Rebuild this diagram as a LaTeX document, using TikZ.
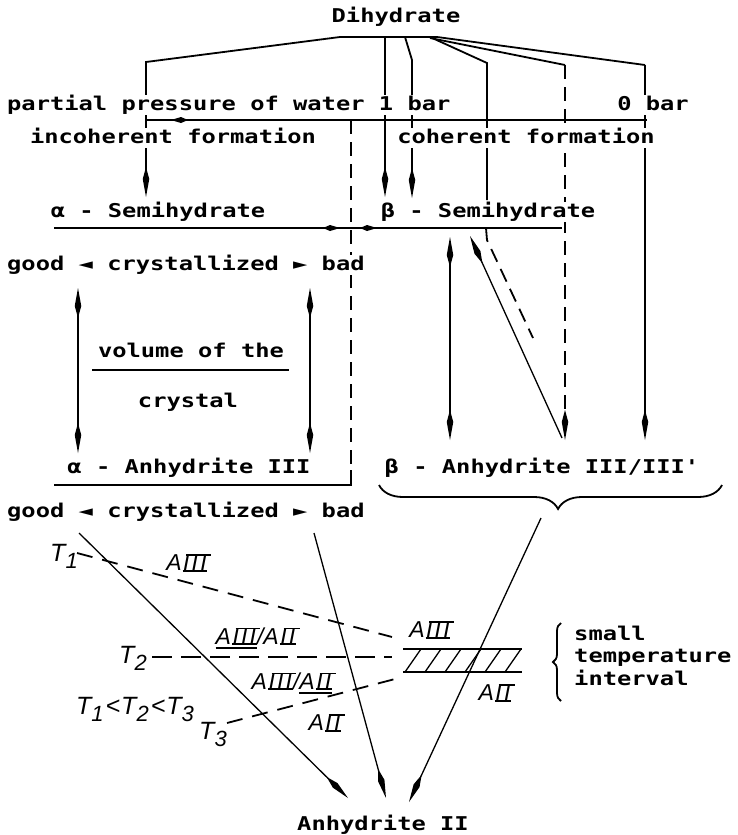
\documentclass[tikz,border=0pt]{standalone}
\usepackage{fontspec}
\usetikzlibrary{arrows.meta,decorations.pathreplacing,decorations.markings}
\newfontfamily\dm{DejaVu Sans Mono}[FakeStretch=1.25]
\newfontfamily\hand{Liberation Sans}
\newcommand\bars[1]{\setbox0\hbox{#1}\rlap{\kern3.2pt\raise\dimexpr\ht0-0.8pt\relax\hbox{\vrule width\wd0 height1.4pt depth0pt}}\rlap{\kern-0.5pt\lower0.6pt\hbox{\vrule width\wd0 height1.4pt depth0pt}}\box0}
\newcommand\AIII{A\kern1.5pt\bars{I\kern2.2pt I\kern2.2pt I\kern1pt}}
\newcommand\AII{A\kern1.5pt\bars{I\kern2.2pt I\kern1pt}}
\newcommand\UL[1]{\setbox2\hbox{#1}\rlap{\lower4.5pt\hbox{\vrule width\wd2 height1.3pt depth0pt}}\box2}
\newcommand\sub[1]{\raisebox{-7pt}{\fontsize{22}{22}\selectfont #1}}
\begin{document}
\begin{tikzpicture}[x=1pt,y=-1pt,
  txt/.style={font=\dm\bfseries\fontsize{19}{22}\selectfont, fill=white, inner sep=1pt, text height=14pt, text depth=4pt},
  lbl/.style={font=\hand\itshape\fontsize{23}{25}\selectfont, inner sep=1pt},
  tlbl/.style={font=\hand\itshape\fontsize{25}{27}\selectfont, inner sep=1pt},
  ln/.style={line width=1.8pt},
  thn/.style={line width=1.3pt},
  dsh/.style={dash pattern=on 14pt off 8pt},
  blob/.tip={Kite[length=17pt,width=6pt,inset=7pt]},
  >={Kite[length=30pt,width=6.5pt,inset=12pt]}]
\useasboundingbox (0,0) rectangle (738,835);
% junction coordinates
\coordinate (dl) at (340,37);
\coordinate (dr) at (437,37);
\coordinate (cl) at (146,62);
\coordinate (f1) at (412,60);
\coordinate (f2) at (487,63);
\coordinate (f3) at (565,65);
\coordinate (f4) at (645,65);
\coordinate (baL) at (147,120);
\coordinate (baR) at (647,120);
\coordinate (sL) at (54,228);
\coordinate (sR) at (562,228);
% Dihydrate fan
\draw[ln,->] (dl) -- (cl) -- (146,197);
\draw[ln] (dl) -- (dr);
\draw[ln,->] (385,37) -- (385,197);
\draw[ln,->] (405,37) -- (f1) -- (412,198);
\draw[ln] (430,37) -- (f2) -- (487,200);
\draw[ln] (430,38) -- (f3);
\draw[ln,dsh,->] (f3) -- (565,440);
\draw[ln] (dr) -- (f4);
\draw[ln,->] (f4) -- (645,440);
% pressure bar
\draw[ln,decoration={markings,mark=at position 476pt with {\arrow{blob}}},postaction=decorate] (baR) -- (baL);
% separating dashed line
\draw[ln,dsh] (351,120) -- (351,470);
\draw[ln] (351,470) -- (351,485) -- (54,485);
% semihydrate bar
\draw[ln,decoration={markings,mark=at position 286pt with {\arrow{blob}},mark=at position 323pt with {\arrow{blob}}},postaction=decorate] (sL) -- (sR);
% alpha double arrows
\draw[ln,<->] (78,288) -- (78,453);
\draw[ln,<->] (310,288) -- (310,453);
\draw[thn] (92,370) -- (289,370);
% beta arrows
\draw[ln,<->] (450,237) -- (450,440);
\draw[thn,<-] (470,236) -- (562,438);
\draw[ln,dsh] (486,228) -- (487,240) -- (533,338);
% brace
\draw[ln,decorate,decoration={brace,amplitude=24pt,aspect=0.478}] (722,485) -- (379,485);
% lower arrows
\coordinate (e1) at (348,798);
\coordinate (e2) at (386,798);
\coordinate (e3) at (409,802);
\draw[thn,->] (79,533) -- (e1);
\draw[thn,->] (314,533) -- (e2);
\draw[thn,->] (541,518) -- (e3);
% temperature lines
\draw[ln,dash pattern=on 16pt off 10pt] (77,553) -- (392,637);
\draw[line width=2.4pt,dash pattern=on 20pt off 9pt] (152,657) -- (392,657);
\draw[ln,dash pattern=on 16pt off 10pt] (227,723) -- (395,679);
% hatched interval
\draw[ln] (403,649) -- (522,649);
\draw[ln] (403,672) -- (522,672);
\begin{scope}
\clip (403,649) rectangle (522,672);
\foreach \x in {385,405,...,525} \draw[thn] (\x,672) -- (\x+16,649);
\end{scope}
\draw[ln,decorate,decoration={brace,amplitude=8pt}] (561,701) -- (561,623);
% texts
\node[txt] (dih) at (396,17) {Dihydrate};
\node[txt,anchor=west] (pp) at (6,105) {partial pressure of water 1 bar};
\node[txt] (zb) at (653,105) {0 bar};
\node[txt] (inc) at (173,138) {incoherent formation};
\node[txt] (coh) at (526,138) {coherent formation};
\node[txt] (as) at (158,212) {α - Semihydrate};
\node[txt] (bs) at (488,212) {β - Semihydrate};
\node[txt,anchor=west] (g1) at (6,265) {good ◄ crystallized ► bad};
\node[txt] (vol) at (191,352) {volume of the};
\node[txt] (cry) at (188,402) {crystal};
\node[txt] (aa) at (189,468) {α - Anhydrite III};
\node[txt] (ba) at (542,468) {β - Anhydrite III/III'};
\node[txt,anchor=west] (g2) at (6,512) {good ◄ crystallized ► bad};
\node[txt] (a2) at (383,825) {Anhydrite II};
\node[txt,anchor=west] (s1) at (573,635) {small};
\node[txt,anchor=west] (s2) at (573,657) {temperature};
\node[txt,anchor=west] (s3) at (573,680) {interval};
% italic labels
\node[tlbl] (t1) at (64,556) {T\sub{1}};
\node[tlbl] (t2) at (133,658) {T\sub{2}};
\node[tlbl] (t3) at (213,734) {T\sub{3}};
\node[tlbl] (tt) at (135,709) {T\sub{1}\kern2pt<\kern1pt T\sub{2}\kern2pt<\kern1pt T\sub{3}};
\node[lbl] (l1) at (187,563) {\AIII};
\node[lbl] (l2) at (430,630) {\AIII};
\node[lbl] (l3) at (495,693) {\AII};
\node[lbl] (l4) at (256,638) {\UL{\AIII}/\AII};
\node[lbl] (l5) at (292,683) {\AIII/\UL{\AII}};
\node[lbl] (l6) at (325,723) {\AII};
\end{tikzpicture}
\end{document}
